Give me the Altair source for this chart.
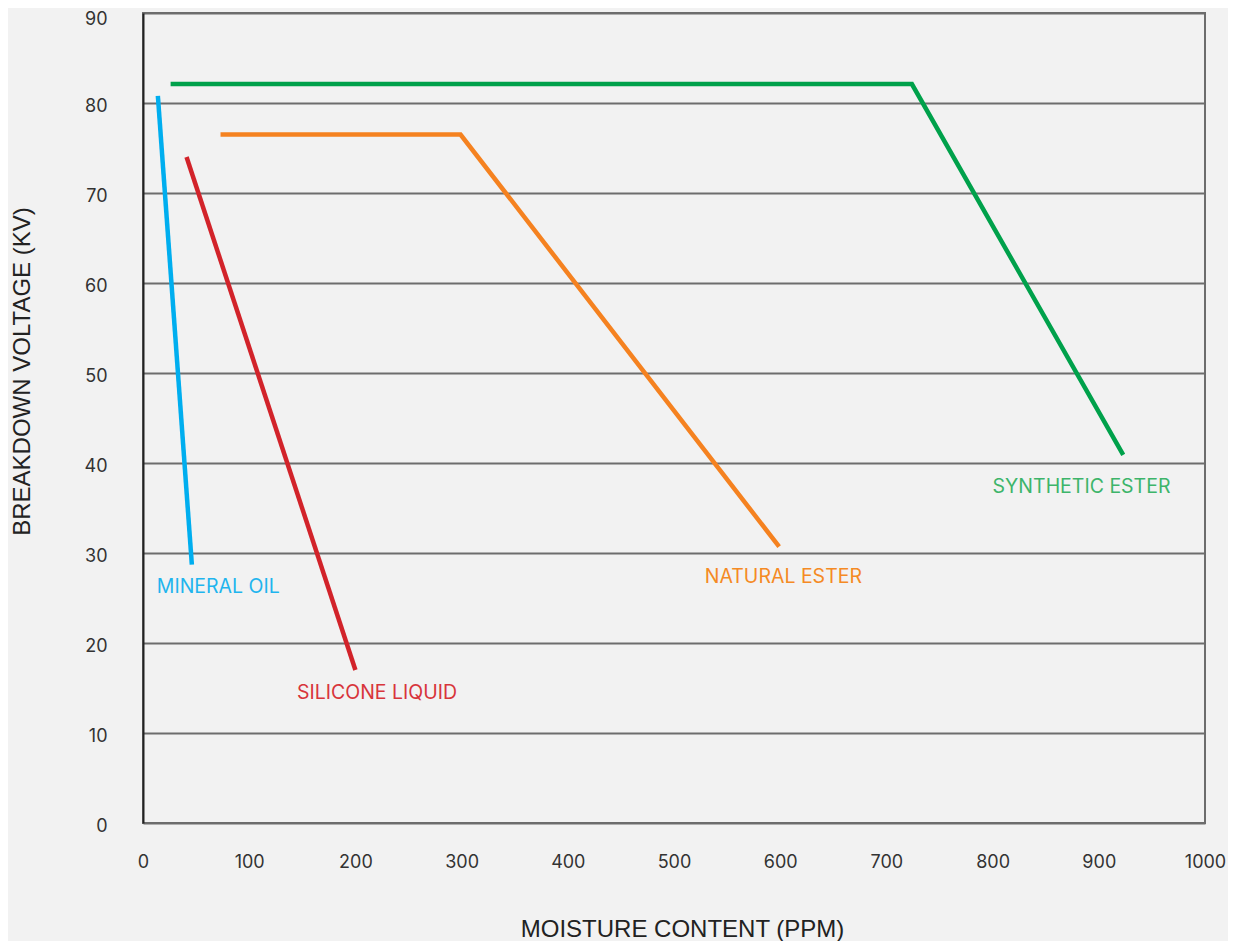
import altair as alt
import pandas as pd

series = ["MINERAL OIL", "MINERAL OIL", "SILICONE LIQUID", "SILICONE LIQUID",
          "NATURAL ESTER", "NATURAL ESTER", "NATURAL ESTER",
          "SYNTHETIC ESTER", "SYNTHETIC ESTER", "SYNTHETIC ESTER"]
order = [0, 1, 0, 1, 0, 1, 2, 0, 1, 2]
moisture = [14, 46, 41, 200, 73, 299, 599, 26, 724, 923]
voltage = [80.8, 28.7, 74, 17, 76.5, 76.5, 30.7, 82.1, 82.1, 40.9]

label_text = ["MINERAL OIL", "SILICONE LIQUID", "NATURAL ESTER", "SYNTHETIC ESTER"]
label_x = [13, 145, 529, 800]
label_y = [26.2, 14.4, 27.3, 37.3]

names = ["MINERAL OIL", "SILICONE LIQUID", "NATURAL ESTER", "SYNTHETIC ESTER"]
line_colors = ["#00aeef", "#d2232a", "#f58220", "#00a14b"]
text_colors = ["#1fb5ee", "#d8353b", "#f58a24", "#3db56a"]

lines_df = pd.DataFrame({"series": series, "order": order, "x": moisture, "y": voltage})
labels_df = pd.DataFrame({"series": label_text, "x": label_x, "y": label_y})

xs = alt.Scale(domain=[0, 1000])
ys = alt.Scale(domain=[0, 90])

lines = alt.Chart(lines_df).mark_line(strokeWidth=4.5, strokeCap="butt").encode(
    x=alt.X("x:Q", scale=xs, axis=alt.Axis(
        values=list(range(0, 1001, 100)), format="d", grid=False, domain=False, ticks=False,
        labelFlush=False,
        labelPadding=30, labelFontSize=18, labelColor="#333333", labelFont="Inter",
        labelFontWeight="normal",
        title="MOISTURE CONTENT (PPM)", titleFontSize=24, titleFontWeight="normal",
        titleFont="Liberation Sans", titleColor="#222222", titleX=539, titleY=106,
        titleBaseline="middle")),
    y=alt.Y("y:Q", scale=ys, axis=alt.Axis(
        values=list(range(0, 91, 10)), grid=True, gridColor="#6d6d6d", gridWidth=2,
        gridOpacity=1, domain=True, domainColor="#222222", domainWidth=2, ticks=False,
        labelFlush=False,
        labelPadding=36, labelFontSize=18, labelColor="#333333", labelFont="Inter",
        labelOffset={"condition": {"test": "datum.value == 90", "value": 6}, "value": 3},
        title="BREAKDOWN VOLTAGE (KV)", titleFontSize=24, titleFontWeight="normal",
        titleFont="Liberation Sans", titleColor="#222222", titleX=-121, titleY=358,
        titleAngle=270, titleAlign="center", titleBaseline="middle")),
    color=alt.Color("series:N", scale=alt.Scale(domain=names, range=line_colors), legend=None),
    order="order:Q",
)

labels = alt.Chart(labels_df).mark_text(align="left", baseline="middle", fontSize=19.5,
                                        font="Inter").encode(
    x=alt.X("x:Q", scale=xs),
    y=alt.Y("y:Q", scale=ys),
    text="series:N",
    color=alt.Color("series:N", scale=alt.Scale(domain=names, range=text_colors), legend=None),
)

chart = alt.layer(lines, labels).resolve_scale(color="independent").properties(
    width=1062, height=810,
    background="#f2f2f2",
    autosize=alt.AutoSizeParams(type="none"),
    padding={"left": 135, "top": 5, "right": 23, "bottom": 118},
).configure_view(stroke="#6d6d6d", strokeWidth=2)

chart.save("out.html", embed_options={"renderer": "svg", "actions": False})
